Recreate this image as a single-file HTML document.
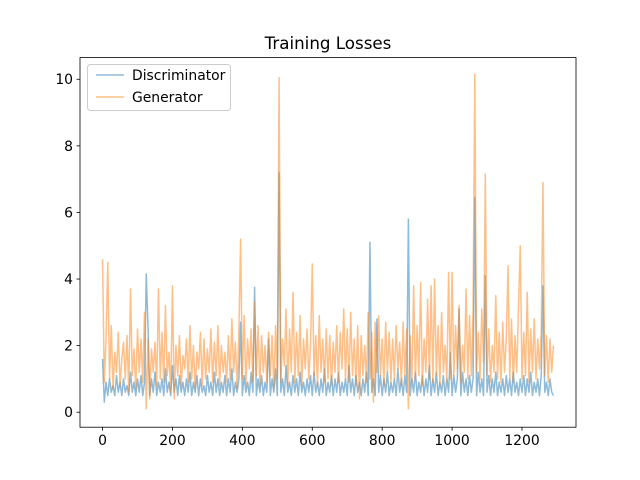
<!DOCTYPE html>
<html><head><meta charset="utf-8"><style>
body{margin:0;background:#fff;}
svg{display:block;font-family:"DejaVu Sans","Liberation Sans",sans-serif;}
</style></head><body>
<svg id="chart" width="640" height="480">
<rect width="640" height="480" fill="#fff"/>
<text x="328" y="49" font-size="16.7" text-anchor="middle">Training Losses</text>
<g id="series"></g>
<g id="axes"></g>
<g>
<rect x="87.5" y="64.5" width="143" height="46" rx="3" fill="#fff" fill-opacity="0.8" stroke="#ccc"/>
<line x1="96" y1="75" x2="124" y2="75" stroke="#1f77b4" stroke-opacity="0.5" stroke-width="1.5"/>
<text x="132" y="80" font-size="13.9">Discriminator</text>
<line x1="96" y1="97" x2="124" y2="97" stroke="#ff7f0e" stroke-opacity="0.5" stroke-width="1.5"/>
<text x="132" y="102" font-size="13.9">Generator</text>
</g>
</svg>
<script>
const step = 5;
const genLoss = [4.6,0.9,2.2,4.5,1.0,2.6,0.7,1.8,1.2,2.4,
0.8,1.6,2.1,1.0,2.3,0.6,3.7,1.1,1.9,0.7,
2.5,1.2,2.2,0.9,3.0,0.1,2.2,0.4,1.9,1.2,
2.1,0.8,3.7,1.0,2.4,0.9,3.2,1.1,1.8,0.6,
3.8,0.4,2.0,1.1,2.3,0.8,1.7,1.3,2.2,0.9,
2.6,1.0,2.0,0.7,1.8,1.3,2.4,0.8,2.2,1.0,
1.9,1.2,2.5,0.9,2.1,1.1,2.6,0.8,2.0,1.2,
1.8,0.9,2.3,1.0,2.8,1.2,2.1,0.7,2.4,5.2,
1.0,2.9,0.8,2.2,1.3,2.5,0.9,3.3,1.1,2.6,
0.8,2.3,1.2,2.0,0.9,2.4,1.1,2.3,0.7,2.6,
1.0,10.05,0.9,2.2,1.4,3.1,0.8,2.5,1.2,3.6,
0.9,2.4,1.1,2.9,0.8,2.2,1.3,2.5,1.0,2.0,
4.45,1.1,2.3,0.8,2.9,1.2,2.2,0.9,2.5,1.0,
2.3,0.8,2.1,1.2,2.6,0.9,2.4,1.3,3.1,1.0,
2.5,0.9,3.0,1.1,2.2,0.8,2.6,0.4,2.3,1.1,
2.0,0.9,3.0,1.0,2.4,0.3,2.7,1.2,2.9,1.1,
2.2,0.8,2.7,1.2,2.4,0.9,2.2,1.0,2.6,1.3,
2.1,0.8,2.7,1.1,2.5,0.1,2.3,0.9,3.8,1.0,
2.6,1.1,3.9,0.8,2.2,1.2,3.4,1.0,3.8,0.9,
4.0,1.1,2.6,0.8,3.0,1.2,2.0,0.9,4.2,1.0,
4.2,1.1,2.6,1.3,3.2,0.9,2.0,1.2,3.7,1.0,
2.9,1.1,3.0,10.15,1.2,2.4,1.0,3.1,1.5,7.15,
1.1,2.5,0.9,2.0,1.2,3.5,1.0,2.4,0.9,2.7,
1.2,2.2,4.4,1.0,2.8,0.9,2.3,1.2,3.2,5.0,
1.0,2.4,1.1,3.6,0.9,2.5,1.2,2.8,1.0,2.2,
1.3,2.4,6.9,1.1,2.3,0.9,2.2,1.2,2.0];
const discLoss = [1.6,0.3,0.9,0.5,1.0,0.6,0.8,0.5,1.1,0.6,
0.9,0.5,1.0,0.6,0.8,0.5,1.2,0.6,0.9,0.5,
1.0,0.6,1.1,0.5,0.9,4.15,2.6,0.5,1.0,0.6,
1.2,0.5,0.9,0.6,1.0,0.5,1.3,0.6,0.9,0.5,
1.4,0.6,1.0,0.5,1.1,0.6,0.9,0.5,1.0,0.6,
1.2,0.5,0.9,0.6,1.1,0.5,1.0,0.6,0.8,0.5,
1.1,0.6,0.9,0.5,1.2,0.6,1.0,0.5,0.9,0.6,
1.1,0.5,1.0,0.6,1.3,0.5,0.9,0.6,1.0,2.7,
0.5,1.1,0.6,0.9,0.5,1.2,0.6,3.75,0.5,1.0,
0.6,1.1,0.5,0.9,0.6,2.2,0.5,1.0,0.6,1.3,
0.5,7.2,0.6,1.0,0.5,1.4,0.6,0.9,0.5,1.1,
0.6,1.0,0.5,1.2,0.6,0.9,0.5,1.0,0.6,1.1,
0.5,1.2,0.6,0.9,0.5,1.0,0.6,1.3,0.5,0.9,
0.6,1.1,0.5,1.0,0.6,1.2,0.5,0.9,0.6,1.0,
0.5,1.4,0.6,1.0,0.5,1.1,0.6,0.9,0.5,1.0,
0.6,1.2,0.5,5.1,0.6,1.0,0.5,2.8,0.6,1.1,
0.5,1.0,0.6,1.2,0.5,0.9,0.6,1.0,0.5,1.3,
0.6,1.0,0.5,1.1,0.6,5.8,0.5,1.0,0.6,1.2,
0.5,0.9,0.6,1.1,0.5,1.0,0.6,1.4,0.5,1.0,
0.6,1.2,0.5,0.9,0.6,1.1,0.5,1.0,0.6,1.8,
0.5,1.1,0.6,1.0,3.1,0.5,1.2,0.6,1.0,0.5,
1.1,0.6,1.0,6.45,0.5,1.2,0.6,1.0,0.5,4.1,
0.6,1.1,0.5,1.0,0.6,1.2,0.5,0.9,0.6,1.0,
0.5,1.1,0.6,1.0,0.5,1.2,0.6,0.9,0.5,1.0,
0.6,1.1,0.5,1.0,0.6,1.2,0.5,0.9,0.6,1.0,
0.5,1.1,3.8,0.6,0.9,0.5,1.0,0.6,0.5];
const xTicks = [0,200,400,600,800,1000,1200];
const yTicks = [0,2,4,6,8,10];

const L=80,R=576,T=57.6,B=427.2;
const xMin=-64.5,xMax=1354.5,yMin=-0.45,yMax=10.65;
const sx=v=>L+(v-xMin)/(xMax-xMin)*(R-L);
const sy=v=>B-(v-yMin)/(yMax-yMin)*(B-T);
const NS="http://www.w3.org/2000/svg";
const series=document.getElementById('series');
function line(data,color,name){
  const p=document.createElementNS(NS,'polyline');
  p.setAttribute('points',data.map((v,i)=>sx(i*step).toFixed(2)+','+sy(v).toFixed(2)).join(' '));
  p.setAttribute('fill','none');p.setAttribute('stroke',color);
  p.setAttribute('stroke-opacity','0.5');p.setAttribute('stroke-width','1.5');
  p.setAttribute('stroke-linejoin','round');
  
  
  series.appendChild(p);
}
line(discLoss,'#1f77b4','discriminator-line');
line(genLoss,'#ff7f0e','generator-line');
const axes=document.getElementById('axes');
const frame=document.createElementNS(NS,'rect');
frame.setAttribute('x',L);frame.setAttribute('y',T);frame.setAttribute('width',R-L);frame.setAttribute('height',B-T);
frame.setAttribute('fill','none');frame.setAttribute('stroke','#000');frame.setAttribute('stroke-width','0.8');


axes.appendChild(frame);
xTicks.forEach(t=>{
  const x=sx(t);
  const l=document.createElementNS(NS,'line');
  l.setAttribute('x1',x);l.setAttribute('x2',x);l.setAttribute('y1',B);l.setAttribute('y2',B+3.5);
  l.setAttribute('stroke','#000');l.setAttribute('stroke-width','0.8');
  
  
  axes.appendChild(l);
  const tx=document.createElementNS(NS,'text');
  tx.setAttribute('x',x);tx.setAttribute('y',B+18);tx.setAttribute('font-size','13.9');tx.setAttribute('text-anchor','middle');
  tx.textContent=t;
  
  
  axes.appendChild(tx);
});
yTicks.forEach(t=>{
  const y=sy(t);
  const l=document.createElementNS(NS,'line');
  l.setAttribute('x1',L-3.5);l.setAttribute('x2',L);l.setAttribute('y1',y);l.setAttribute('y2',y);
  l.setAttribute('stroke','#000');l.setAttribute('stroke-width','0.8');
  
  
  axes.appendChild(l);
  const tx=document.createElementNS(NS,'text');
  tx.setAttribute('x',L-7);tx.setAttribute('y',y+5);tx.setAttribute('font-size','13.9');tx.setAttribute('text-anchor','end');
  tx.textContent=t;
  
  
  axes.appendChild(tx);
});
</script>
</body></html>
